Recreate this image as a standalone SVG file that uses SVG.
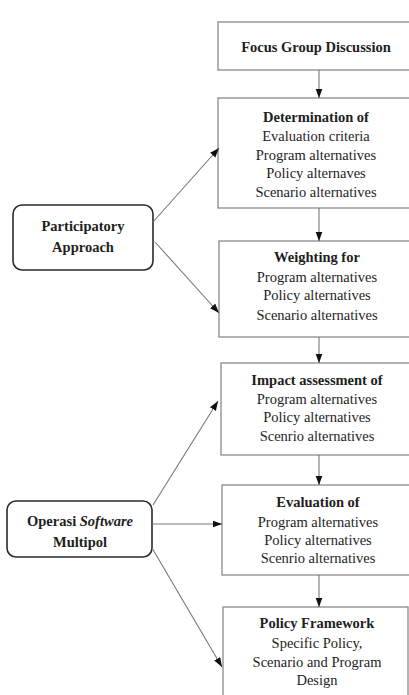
<svg xmlns="http://www.w3.org/2000/svg" width="409" height="695" viewBox="0 0 409 695">
<style>
.box{fill:#fff;stroke:#8a8a8a;stroke-width:1.3}
.rbox{fill:#fff;stroke:#2a2a2a;stroke-width:1.6}
text{font-size:14.5px;fill:#1e1e1e;text-anchor:middle}
.b{font-weight:bold}
.conn line{stroke:#777;stroke-width:1.1;fill:none}
</style>
<defs>
<marker id="ah" markerUnits="userSpaceOnUse" markerWidth="10" markerHeight="8" refX="9.5" refY="3.5" orient="auto">
<path d="M0,0 L9.5,3.5 L0,7 z" fill="#111"/>
</marker>
</defs>
<rect width="409" height="695" fill="#fff"/>
<g font-family="Liberation Serif, Times New Roman, serif">
<g id="focus">
<rect class="box" x="218" y="22" width="200" height="48"/>
<text class="b" x="316" y="52">Focus Group Discussion</text>
</g>
<g id="determination">
<rect class="box" x="218" y="98" width="200" height="110"/>
<text class="b" x="316" y="122">Determination of</text>
<text x="316" y="141">Evaluation criteria</text>
<text x="316" y="160">Program alternatives</text>
<text x="316" y="178">Policy alternaves</text>
<text x="316" y="197">Scenario alternatives</text>
</g>
<g id="weighting">
<rect class="box" x="219" y="241" width="200" height="96"/>
<text class="b" x="317" y="262">Weighting for</text>
<text x="317" y="282">Program alternatives</text>
<text x="317" y="300">Policy alternatives</text>
<text x="317" y="320">Scenario alternatives</text>
</g>
<g id="impact">
<rect class="box" x="221" y="363" width="200" height="92"/>
<text class="b" x="317" y="385">Impact assessment of</text>
<text x="317" y="404">Program alternatives</text>
<text x="317" y="422">Policy alternatives</text>
<text x="317" y="441">Scenrio alternatives</text>
</g>
<g id="evaluation">
<rect class="box" x="222" y="485" width="200" height="90"/>
<text class="b" x="318" y="507">Evaluation of</text>
<text x="318" y="527">Program alternatives</text>
<text x="318" y="545">Policy alternatives</text>
<text x="318" y="563">Scenrio alternatives</text>
</g>
<g id="framework">
<rect class="box" x="223" y="607" width="185" height="100"/>
<text class="b" x="317" y="628">Policy Framework</text>
<text x="317" y="648">Specific Policy,</text>
<text x="317" y="667">Scenario and Program</text>
<text x="317" y="685">Design</text>
</g>
<g id="participatory">
<rect class="rbox" x="13" y="205" width="140" height="65" rx="9"/>
<text class="b" x="83" y="231">Participatory</text>
<text class="b" x="83" y="252">Approach</text>
</g>
<g id="operasi">
<rect class="rbox" x="7" y="501" width="145" height="56" rx="9"/>
<text class="b" x="80" y="526">Operasi <tspan font-style="italic">Software</tspan></text>
<text class="b" x="80" y="547">Multipol</text>
</g>
</g>
<g class="conn" id="connectors">
<line x1="319" y1="70" x2="319" y2="98" marker-end="url(#ah)"/>
<line x1="319" y1="208" x2="319" y2="241" marker-end="url(#ah)"/>
<line x1="319" y1="337" x2="319" y2="363" marker-end="url(#ah)"/>
<line x1="319" y1="455" x2="319" y2="485" marker-end="url(#ah)"/>
<line x1="319" y1="575" x2="319" y2="607" marker-end="url(#ah)"/>
<line x1="153" y1="222" x2="219" y2="148" marker-end="url(#ah)"/>
<line x1="155" y1="242" x2="219" y2="313" marker-end="url(#ah)"/>
<line x1="153" y1="505" x2="218" y2="401" marker-end="url(#ah)"/>
<line x1="152" y1="524" x2="222" y2="524" marker-end="url(#ah)"/>
<line x1="152" y1="548" x2="222" y2="667" marker-end="url(#ah)"/>
</g>
</svg>
